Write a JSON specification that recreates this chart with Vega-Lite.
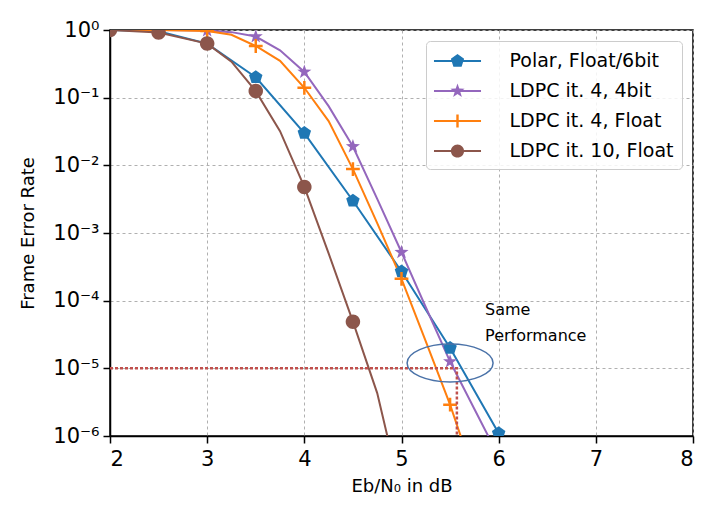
{
  "$schema": "https://vega.github.io/schema/vega-lite/v6.json",
  "width": 583,
  "height": 406,
  "autosize": "none",
  "padding": {"left": 110, "top": 30, "right": 9, "bottom": 72},
  "background": "white",
  "config": {
    "font": "DejaVu Sans",
    "view": {"stroke": "black", "strokeWidth": 1.5},
    "axis": {
      "labelFont": "DejaVu Sans",
      "titleFont": "DejaVu Sans",
      "labelColor": "black",
      "titleColor": "black",
      "labelFontSize": 21,
      "titleFontSize": 18,
      "titleFontWeight": "normal",
      "domainColor": "black",
      "domainWidth": 1.5,
      "tickColor": "black",
      "tickWidth": 1.5,
      "tickSize": 7,
      "grid": true,
      "gridColor": "#b0b0b0",
      "gridDash": [3, 3],
      "gridWidth": 1
    },
    "legend": {
      "labelFont": "DejaVu Sans",
      "labelFontSize": 19,
      "labelColor": "black",
      "labelLimit": 400
    }
  },
  "datasets": {
    "curves": [
      {"series": "Polar, Float/6bit", "x": 2, "y": 1},
      {"series": "Polar, Float/6bit", "x": 2.5, "y": 0.96},
      {"series": "Polar, Float/6bit", "x": 3, "y": 0.63},
      {"series": "Polar, Float/6bit", "x": 3.5, "y": 0.2},
      {"series": "Polar, Float/6bit", "x": 4, "y": 0.03},
      {"series": "Polar, Float/6bit", "x": 4.5, "y": 0.003},
      {"series": "Polar, Float/6bit", "x": 5, "y": 0.00027},
      {"series": "Polar, Float/6bit", "x": 5.5, "y": 0.00002},
      {"series": "Polar, Float/6bit", "x": 6, "y": 0.0000011},
      {"series": "LDPC it. 4, 4bit", "x": 2, "y": 1},
      {"series": "LDPC it. 4, 4bit", "x": 2.5, "y": 1},
      {"series": "LDPC it. 4, 4bit", "x": 3, "y": 0.98},
      {"series": "LDPC it. 4, 4bit", "x": 3.25, "y": 0.93},
      {"series": "LDPC it. 4, 4bit", "x": 3.5, "y": 0.8},
      {"series": "LDPC it. 4, 4bit", "x": 3.75, "y": 0.5},
      {"series": "LDPC it. 4, 4bit", "x": 4, "y": 0.24},
      {"series": "LDPC it. 4, 4bit", "x": 4.25, "y": 0.075},
      {"series": "LDPC it. 4, 4bit", "x": 4.5, "y": 0.019},
      {"series": "LDPC it. 4, 4bit", "x": 4.75, "y": 0.0032},
      {"series": "LDPC it. 4, 4bit", "x": 5, "y": 0.00052},
      {"series": "LDPC it. 4, 4bit", "x": 5.25, "y": 0.00008},
      {"series": "LDPC it. 4, 4bit", "x": 5.5, "y": 0.0000126},
      {"series": "LDPC it. 4, 4bit", "x": 5.75, "y": 0.0000025},
      {"series": "LDPC it. 4, 4bit", "x": 6, "y": 0.0000005},
      {"series": "LDPC it. 4, Float", "x": 2, "y": 1},
      {"series": "LDPC it. 4, Float", "x": 2.5, "y": 1},
      {"series": "LDPC it. 4, Float", "x": 3, "y": 0.97},
      {"series": "LDPC it. 4, Float", "x": 3.25, "y": 0.85},
      {"series": "LDPC it. 4, Float", "x": 3.5, "y": 0.58},
      {"series": "LDPC it. 4, Float", "x": 3.75, "y": 0.35},
      {"series": "LDPC it. 4, Float", "x": 4, "y": 0.14},
      {"series": "LDPC it. 4, Float", "x": 4.25, "y": 0.045},
      {"series": "LDPC it. 4, Float", "x": 4.5, "y": 0.0088},
      {"series": "LDPC it. 4, Float", "x": 4.75, "y": 0.0014},
      {"series": "LDPC it. 4, Float", "x": 5, "y": 0.00021},
      {"series": "LDPC it. 4, Float", "x": 5.25, "y": 0.000025},
      {"series": "LDPC it. 4, Float", "x": 5.5, "y": 0.0000029},
      {"series": "LDPC it. 4, Float", "x": 5.75, "y": 0.00000025},
      {"series": "LDPC it. 4, Float", "x": 6, "y": 0.00000002},
      {"series": "LDPC it. 10, Float", "x": 2, "y": 1},
      {"series": "LDPC it. 10, Float", "x": 2.5, "y": 0.92},
      {"series": "LDPC it. 10, Float", "x": 3, "y": 0.63},
      {"series": "LDPC it. 10, Float", "x": 3.25, "y": 0.34},
      {"series": "LDPC it. 10, Float", "x": 3.5, "y": 0.125},
      {"series": "LDPC it. 10, Float", "x": 3.75, "y": 0.032},
      {"series": "LDPC it. 10, Float", "x": 4, "y": 0.0048},
      {"series": "LDPC it. 10, Float", "x": 4.25, "y": 0.0005},
      {"series": "LDPC it. 10, Float", "x": 4.5, "y": 0.000049},
      {"series": "LDPC it. 10, Float", "x": 4.75, "y": 0.0000043},
      {"series": "LDPC it. 10, Float", "x": 5, "y": 0.00000013}
    ],
    "markers": [
      {"series": "Polar, Float/6bit", "x": 2, "y": 1},
      {"series": "Polar, Float/6bit", "x": 2.5, "y": 0.96},
      {"series": "Polar, Float/6bit", "x": 3, "y": 0.63},
      {"series": "Polar, Float/6bit", "x": 3.5, "y": 0.2},
      {"series": "Polar, Float/6bit", "x": 4, "y": 0.03},
      {"series": "Polar, Float/6bit", "x": 4.5, "y": 0.003},
      {"series": "Polar, Float/6bit", "x": 5, "y": 0.00027},
      {"series": "Polar, Float/6bit", "x": 5.5, "y": 0.00002},
      {"series": "Polar, Float/6bit", "x": 6, "y": 0.0000011},
      {"series": "LDPC it. 4, 4bit", "x": 2, "y": 1},
      {"series": "LDPC it. 4, 4bit", "x": 2.5, "y": 1},
      {"series": "LDPC it. 4, 4bit", "x": 3, "y": 0.98},
      {"series": "LDPC it. 4, 4bit", "x": 3.5, "y": 0.8},
      {"series": "LDPC it. 4, 4bit", "x": 4, "y": 0.24},
      {"series": "LDPC it. 4, 4bit", "x": 4.5, "y": 0.019},
      {"series": "LDPC it. 4, 4bit", "x": 5, "y": 0.00052},
      {"series": "LDPC it. 4, 4bit", "x": 5.5, "y": 0.0000126},
      {"series": "LDPC it. 4, 4bit", "x": 6, "y": 0.0000005},
      {"series": "LDPC it. 4, Float", "x": 2, "y": 1},
      {"series": "LDPC it. 4, Float", "x": 2.5, "y": 1},
      {"series": "LDPC it. 4, Float", "x": 3, "y": 0.97},
      {"series": "LDPC it. 4, Float", "x": 3.5, "y": 0.58},
      {"series": "LDPC it. 4, Float", "x": 4, "y": 0.14},
      {"series": "LDPC it. 4, Float", "x": 4.5, "y": 0.0088},
      {"series": "LDPC it. 4, Float", "x": 5, "y": 0.00021},
      {"series": "LDPC it. 4, Float", "x": 5.5, "y": 0.0000029},
      {"series": "LDPC it. 4, Float", "x": 6, "y": 0.00000002},
      {"series": "LDPC it. 10, Float", "x": 2, "y": 1},
      {"series": "LDPC it. 10, Float", "x": 2.5, "y": 0.92},
      {"series": "LDPC it. 10, Float", "x": 3, "y": 0.63},
      {"series": "LDPC it. 10, Float", "x": 3.5, "y": 0.125},
      {"series": "LDPC it. 10, Float", "x": 4, "y": 0.0048},
      {"series": "LDPC it. 10, Float", "x": 4.5, "y": 0.000049},
      {"series": "LDPC it. 10, Float", "x": 5, "y": 0.00000013}
    ],
    "guide": [
      {"order": 1, "x": 2, "y": 0.00001},
      {"order": 2, "x": 5.57, "y": 0.00001},
      {"order": 3, "x": 5.57, "y": 0.000001}
    ],
    "ellipse": [{"x": 5.5, "y": 0.000012}],
    "note": [{"x": 5.86, "y": 0.000073, "text": "Same\nPerformance"}]
  },
  "layer": [
    {
      "data": {"name": "curves"},
      "mark": {"type": "line", "strokeWidth": 2, "clip": true},
      "encoding": {
        "x": {
          "field": "x", "type": "quantitative",
          "scale": {"domain": [2, 8], "nice": false, "zero": false},
          "axis": {"values": [2, 3, 4, 5, 6, 7, 8], "format": "d", "title": "Eb/N₀ in dB", "labelPadding": 5, "titlePadding": 8}
        },
        "y": {
          "field": "y", "type": "quantitative",
          "scale": {"type": "log", "domain": [0.000001, 1], "nice": false},
          "axis": {
            "values": [0.000001, 0.00001, 0.0001, 0.001, 0.01, 0.1, 1],
            "labelExpr": "'10' + ['⁰','⁻¹','⁻²','⁻³','⁻⁴','⁻⁵','⁻⁶'][round(-log(datum.value)/LN10)]",
            "title": "Frame Error Rate",
            "labelPadding": 4,
            "titlePadding": 15
          }
        },
        "color": {
          "field": "series", "type": "nominal",
          "scale": {
            "domain": ["Polar, Float/6bit", "LDPC it. 4, 4bit", "LDPC it. 4, Float", "LDPC it. 10, Float"],
            "range": ["#1f77b4", "#9467bd", "#ff7f0e", "#8c564b"]
          },
          "legend": {
            "title": null,
            "orient": "top-right",
            "offset": 11,
            "padding": 8,
            "fillColor": "rgba(255,255,255,0.85)",
            "strokeColor": "#cccccc",
            "cornerRadius": 4,
            "symbolSize": 576,
            "symbolStrokeWidth": 0,
            "symbolOpacity": 1,
            "symbolOffset": 11.5,
            "labelOffset": 40,
            "rowPadding": 8,
            "encode": {
              "symbols": {
                "update": {
                  "shape": {"signal": "datum.value == 'Polar, Float/6bit' ? 'M-1.96,-0.085L1.96,-0.085L1.96,0.085L-1.96,0.085ZM0,-0.58L0.552,-0.179L0.341,0.469L-0.341,0.469L-0.552,-0.179Z' : datum.value == 'LDPC it. 4, 4bit' ? 'M-1.96,-0.085L1.96,-0.085L1.96,0.085L-1.96,0.085ZM0,-0.62L0.147,-0.202L0.59,-0.192L0.238,0.077L0.364,0.502L0,0.25L-0.364,0.502L-0.238,0.077L-0.59,-0.192L-0.147,-0.202Z' : datum.value == 'LDPC it. 4, Float' ? 'M-1.96,-0.085L1.96,-0.085L1.96,0.085L-1.96,0.085ZM-0.1,-0.55L0.1,-0.55L0.1,0.55L-0.1,0.55Z' : 'M-1.96,-0.085L1.96,-0.085L1.96,0.085L-1.96,0.085ZM-0.55,0A0.55,0.55 0 1,1 0.55,0A0.55,0.55 0 1,1 -0.55,0Z'"},
                  "size": {"value": 576},
                  "fill": {"scale": "color", "field": "value"},
                  "stroke": {"value": "transparent"},
                  "strokeWidth": {"value": 0},
                  "opacity": {"value": 1}
                }
              }
            }
          }
        },
        "detail": {"field": "series"},
        "order": {"field": "x", "type": "quantitative"}
      }
    },
    {
      "data": {"name": "markers"},
      "mark": {"type": "point", "filled": true, "opacity": 1, "strokeWidth": 0, "clip": true},
      "encoding": {
        "x": {"field": "x", "type": "quantitative"},
        "y": {"field": "y", "type": "quantitative"},
        "color": {"field": "series", "type": "nominal"},
        "shape": {
          "field": "series", "type": "nominal",
          "scale": {
            "domain": ["LDPC it. 10, Float", "LDPC it. 4, Float", "LDPC it. 4, 4bit", "Polar, Float/6bit"],
            "range": [
              "M-1,0A1,1 0 1,1 1,0A1,1 0 1,1 -1,0Z",
              "M-0.18,-1L0.18,-1L0.18,-0.18L1,-0.18L1,0.18L0.18,0.18L0.18,1L-0.18,1L-0.18,0.18L-1,0.18L-1,-0.18L-0.18,-0.18Z",
              "M0,-1L0.235,-0.324L0.951,-0.309L0.38,0.124L0.588,0.809L0,0.4L-0.588,0.809L-0.38,0.124L-0.951,-0.309L-0.235,-0.324Z",
              "M0,-1L0.951,-0.309L0.588,0.809L-0.588,0.809L-0.951,-0.309Z"
            ]
          },
          "legend": null
        },
        "size": {
          "field": "series", "type": "nominal",
          "scale": {
            "domain": ["LDPC it. 4, Float", "Polar, Float/6bit", "LDPC it. 10, Float", "LDPC it. 4, 4bit"],
            "range": [190, 220, 240, 270]
          },
          "legend": null
        }
      }
    },
    {
      "data": {"name": "guide"},
      "mark": {"type": "line", "color": "#c0504d", "strokeWidth": 2.5, "strokeDash": [3, 2], "clip": true},
      "encoding": {
        "x": {"field": "x", "type": "quantitative"},
        "y": {"field": "y", "type": "quantitative"},
        "order": {"field": "order", "type": "quantitative"}
      }
    },
    {
      "data": {"name": "ellipse"},
      "mark": {"type": "point", "filled": false, "shape": "M-1,0A1,0.44 0 1,1 1,0A1,0.44 0 1,1 -1,0Z", "size": 7396, "stroke": "#4a72a8", "strokeWidth": 1.5, "opacity": 1},
      "encoding": {
        "x": {"field": "x", "type": "quantitative"},
        "y": {"field": "y", "type": "quantitative"}
      }
    },
    {
      "data": {"name": "note"},
      "mark": {"type": "text", "align": "left", "baseline": "middle", "lineBreak": "\n", "fontSize": 16, "lineHeight": 26, "font": "DejaVu Sans", "color": "black"},
      "encoding": {
        "x": {"field": "x", "type": "quantitative"},
        "y": {"field": "y", "type": "quantitative"},
        "text": {"field": "text"}
      }
    }
  ]
}
